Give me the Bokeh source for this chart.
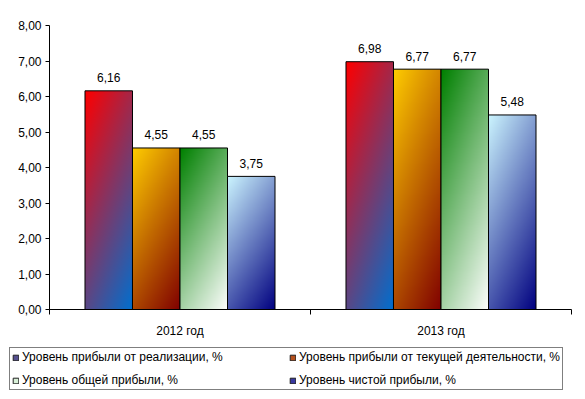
import numpy as np
from bokeh.plotting import figure
from bokeh.layouts import column
from bokeh.models import FixedTicker, Legend, LegendItem, Range1d
from bokeh.core.properties import value
from bokeh.embed import file_html
from bokeh.resources import INLINE

# ---------------- data ----------------
categories = ["2012 год", "2013 год"]
series_names = [
    "Уровень прибыли от реализации, %",
    "Уровень прибыли от текущей деятельности, %",
    "Уровень общей прибыли, %",
    "Уровень чистой прибыли, %",
]
realization = [6.16, 6.98]
current_activity = [4.55, 6.77]
total_profit = [4.55, 6.77]
net_profit = [3.75, 5.48]
y_ticks = [0, 1, 2, 3, 4, 5, 6, 7, 8]
y_tick_labels = ["0,00", "1,00", "2,00", "3,00", "4,00", "5,00", "6,00", "7,00", "8,00"]

series_values = [realization, current_activity, total_profit, net_profit]

# ---------------- style ----------------
FONT = "Liberation Sans"
FS = "12px"
grad_start = [(255, 0, 0), (255, 204, 0), (0, 128, 0), (204, 245, 255)]
grad_end = [(0, 112, 208), (128, 0, 0), (255, 255, 255), (0, 0, 128)]
legend_colors = ["#55508f", "#b5501c", "#d8f0d8", "#3838a0"]
bar_w = 0.182
group_w = bar_w * len(series_names)


def gradient(c0, c1, nx=48, ny=256):
    u = np.linspace(0, 1, nx)[None, :]
    v = np.linspace(0, 1, ny)[:, None]   # 0 = bottom, 1 = top
    t = np.clip(0.35 * u + 0.65 * (1 - v), 0, 1)
    img = np.empty((ny, nx, 4), dtype=np.uint8)
    for k in range(3):
        img[:, :, k] = (c0[k] + (c1[k] - c0[k]) * t).astype(np.uint8)
    img[:, :, 3] = 255
    return img.view(dtype=np.uint32).reshape((ny, nx))


p = figure(width=580, height=340, output_backend="svg", toolbar_location=None,
           x_range=Range1d(0, len(categories)), y_range=Range1d(0, 8),
           min_border_left=49, min_border_right=9, min_border_top=25,
           min_border_bottom=30)
p.background_fill_color = "white"
p.border_fill_color = "white"
p.outline_line_color = None
p.xgrid.visible = False
p.ygrid.visible = False
p.frame_align = False

# legend-only panel
lg = figure(width=580, height=55, output_backend="svg", toolbar_location=None,
            x_range=Range1d(0, len(categories)), y_range=Range1d(0, 8),
            x_axis_location=None, y_axis_location=None,
            min_border_left=0, min_border_right=0, min_border_top=0,
            min_border_bottom=0)
lg.grid.visible = False
lg.outline_line_color = None
lg.background_fill_color = "white"
lg.border_fill_color = "white"
lg.frame_align = False

legend_items = []
for k, (name, vals) in enumerate(zip(series_names, series_values)):
    lefts = [i + (1 - group_w) / 2 + k * bar_w for i in range(len(categories))]
    rights = [l + bar_w for l in lefts]
    img = gradient(grad_start[k], grad_end[k])
    p.image_rgba(image=[img] * len(vals), x=lefts, y=[0] * len(vals),
                 dw=[bar_w] * len(vals), dh=vals)
    p.quad(left=lefts, right=rights, bottom=[0] * len(vals), top=vals,
           fill_color=None, line_color="black", line_width=1)
    centers = [l + bar_w / 2 for l in lefts]
    labels = [f"{v:.2f}".replace(".", ",") for v in vals]
    p.text(x=centers, y=vals, text=labels, text_font=value(FONT),
           text_font_size=FS, text_align="center", text_baseline="middle",
           y_offset=-13, text_color="black")
    r = lg.quad(left=lefts, right=rights, bottom=[0] * len(vals), top=vals,
                fill_color=legend_colors[k], line_color="#202020", line_width=1,
                visible=False)
    legend_items.append(LegendItem(label=name, renderers=[r]))

# axes
p.yaxis.ticker = FixedTicker(ticks=y_ticks)
p.yaxis.major_label_overrides = {t: l for t, l in zip(y_ticks, y_tick_labels)}
p.yaxis.major_tick_out = 4
p.yaxis.major_tick_in = 0
p.yaxis.minor_tick_out = 0
p.yaxis.minor_tick_in = 0
p.yaxis.major_label_standoff = 4
p.yaxis.axis_line_color = "black"
p.yaxis.major_tick_line_color = "black"
p.yaxis.major_label_text_font = FONT
p.yaxis.major_label_text_font_size = FS
p.yaxis.major_label_text_color = "black"

centers_x = [i + 0.5 for i in range(len(categories))]
p.xaxis.ticker = FixedTicker(ticks=centers_x,
                             minor_ticks=list(range(len(categories) + 1)))
p.xaxis.major_label_overrides = {c: l for c, l in zip(centers_x, categories)}
p.xaxis.major_tick_out = 0
p.xaxis.major_tick_in = 0
p.xaxis.minor_tick_out = 5
p.xaxis.minor_tick_in = 0
p.xaxis.minor_tick_line_color = "black"
p.xaxis.major_label_standoff = 9
p.xaxis.axis_line_color = "black"
p.xaxis.major_label_text_font = FONT
p.xaxis.major_label_text_font_size = FS
p.xaxis.major_label_text_color = "black"

legend = Legend(items=[legend_items[0], legend_items[2], legend_items[1], legend_items[3]],
                ncols=2, location=(9, 5))
legend.label_text_font = FONT
legend.label_text_font_size = FS
legend.label_text_color = "black"
legend.glyph_width = 7
legend.glyph_height = 7
legend.label_height = 12
legend.label_width = 258
legend.label_standoff = 3
legend.spacing = 9
legend.padding = 2
legend.margin = 0
legend.inactive_fill_alpha = 0
legend.border_line_color = "black"
legend.border_line_width = 1
legend.background_fill_color = "white"
legend.background_fill_alpha = 1
lg.add_layout(legend, "center")

open("out.html", "w").write(file_html(column(p, lg, spacing=0), INLINE))
